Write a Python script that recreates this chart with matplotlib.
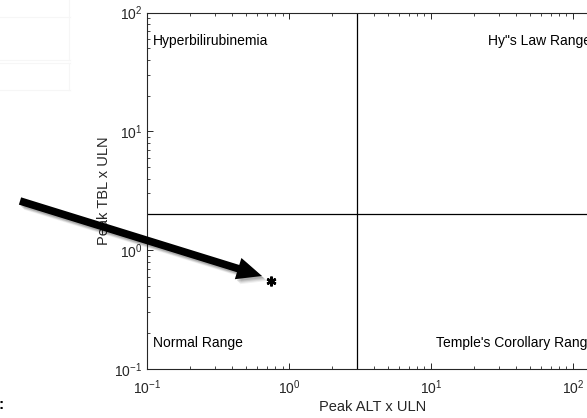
import matplotlib
matplotlib.use("Agg")
import matplotlib.pyplot as plt
from matplotlib.patches import FancyArrowPatch
from matplotlib.lines import Line2D

plt.rcParams['font.family'] = ['Liberation Sans', 'DejaVu Sans']
plt.rcParams['font.size'] = 10

# data
alt_peak = [0.75]
tbl_peak = [0.55]
alt_threshold = 3.0
tbl_threshold = 2.0
x_limits = [0.1, 150]
y_limits = [0.1, 100]
region_labels = ["Hyperbilirubinemia", "Hy\"s Law Range", "Normal Range", "Temple's Corollary Rang"]

W, H = 587, 418
fig = plt.figure(figsize=(W / 100, H / 100), dpi=100)
ax = fig.add_axes([147 / W, 49 / H, 451 / W, 356.5 / H])
ax.set_xscale('log')
ax.set_yscale('log')
ax.set_xlim(x_limits)
ax.set_ylim(y_limits)

dark = '#262626'
for s in ax.spines.values():
    s.set_color(dark)
    s.set_linewidth(0.8)
ax.tick_params(which='both', direction='in', top=True, right=True, colors=dark, labelsize=10)
ax.tick_params(which='major', length=4, width=0.7)
ax.tick_params(which='minor', length=2.5, width=0.6)
ax.tick_params(axis='x', which='major', pad=7)

ax.axvline(alt_threshold, color='black', lw=0.9)
ax.axhline(tbl_threshold, color='black', lw=0.9)

ax.plot(alt_peak, tbl_peak, linestyle='none', marker=(6, 2, 0), markersize=7,
        markeredgewidth=1.8, color='black')

ax.set_xlabel('Peak ALT x ULN', fontsize=10.5, color=dark, labelpad=2)
ax.set_ylabel('Peak TBL x ULN', fontsize=10.5, color=dark, labelpad=2)

def ftext(px, py, s, **kw):
    fig.text(px / W, 1 - py / H, s, fontsize=10, color='black', va='center', ha='left', **kw)

ftext(153, 41, region_labels[0])
ftext(488, 41, region_labels[1])
ftext(153, 343, region_labels[2])
ftext(436, 343, region_labels[3])

# faint leftover lines top-left
for (x0, y0, x1, y1) in [(0, 17, 70, 17), (0, 60, 70, 60), (0, 63, 70, 63), (0, 90, 70, 90),
                         (69, 0, 69, 60), (69, 63, 69, 90)]:
    fig.add_artist(Line2D([x0 / W, x1 / W], [1 - y0 / H, 1 - y1 / H], color='#f6f6f6', lw=0.8))

fig.text(-2 / W, 1 - 405 / H, ':', fontsize=11, fontweight='bold', ha='left', va='center')

# arrow with shadow
tail = (20, 201)
tip = (262, 276)
style = 'simple,head_length=18,head_width=16,tail_width=5.5'
for off, a in [(5, 0.06), (4, 0.08), (3, 0.1), (2, 0.12)]:
    sh = FancyArrowPatch(((tail[0] + off) / W, 1 - (tail[1] + off) / H),
                         ((tip[0] + off) / W, 1 - (tip[1] + off) / H),
                         transform=fig.transFigure, arrowstyle=style, mutation_scale=1,
                         color='black', alpha=a, lw=0, shrinkA=0, shrinkB=0)
    fig.add_artist(sh)
arr = FancyArrowPatch((tail[0] / W, 1 - tail[1] / H), (tip[0] / W, 1 - tip[1] / H),
                      transform=fig.transFigure, arrowstyle=style, mutation_scale=1,
                      color='black', lw=0, shrinkA=0, shrinkB=0)
fig.add_artist(arr)

fig.savefig('out.png', dpi=100)
